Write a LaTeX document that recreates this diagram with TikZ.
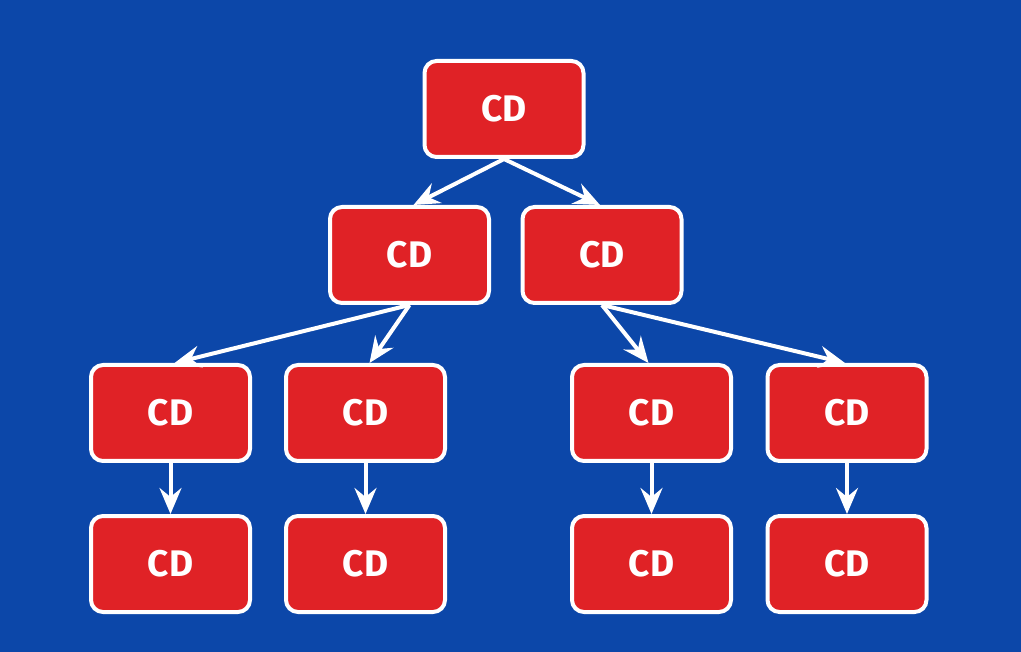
\documentclass[tikz,border=0pt]{standalone}
\usepackage{fontspec}
\setmainfont{Fira Sans}
\usetikzlibrary{arrows.meta}
\definecolor{bgblue}{HTML}{0C47A9}
\definecolor{boxred}{HTML}{E02226}
\begin{document}
\begin{tikzpicture}[x=1pt,y=-1pt,
  cdbox/.style={draw=white, line width=4pt, fill=boxred, rounded corners=12pt,
    minimum width=159pt, minimum height=96pt, inner sep=0pt,
    text=white, font=\fontsize{37}{42}\selectfont\bfseries},
  link/.style={draw=white, line width=4pt,
    -{Stealth[length=26pt, width=22pt, inset=9pt]}}]
  % canvas
  \fill[bgblue] (0,0) rectangle (1021,652);
  \useasboundingbox (0,0) rectangle (1021,652);
  % tree levels
  \node[cdbox] (r)   at (504,109)   {CD};
  \node[cdbox] (a)   at (409.5,255) {CD};
  \node[cdbox] (b)   at (602,255)   {CD};
  \node[cdbox] (a1)  at (170.5,413) {CD};
  \node[cdbox] (a2)  at (365.5,413) {CD};
  \node[cdbox] (b1)  at (651.5,413) {CD};
  \node[cdbox] (b2)  at (847,413)   {CD};
  \node[cdbox] (a1c) at (170.5,564) {CD};
  \node[cdbox] (a2c) at (365.5,564) {CD};
  \node[cdbox] (b1c) at (651.5,564) {CD};
  \node[cdbox] (b2c) at (847,564)   {CD};
  % connectors
  \draw[link] (r.south) -- ([xshift=4pt]a.north);
  \draw[link] (r.south) -- ([xshift=-2pt]b.north);
  \draw[link] (a.south) -- ([xshift=4pt]a1.north);
  \draw[link] (a.south) -- ([xshift=4pt]a2.north);
  \draw[link] (b.south) -- ([xshift=-3pt]b1.north);
  \draw[link] (b.south) -- ([xshift=-2pt]b2.north);
  \draw[link] (a1.south) -- (a1c.north);
  \draw[link] (a2.south) -- (a2c.north);
  \draw[link] (b1.south) -- (b1c.north);
  \draw[link] (b2.south) -- (b2c.north);
\end{tikzpicture}
\end{document}
